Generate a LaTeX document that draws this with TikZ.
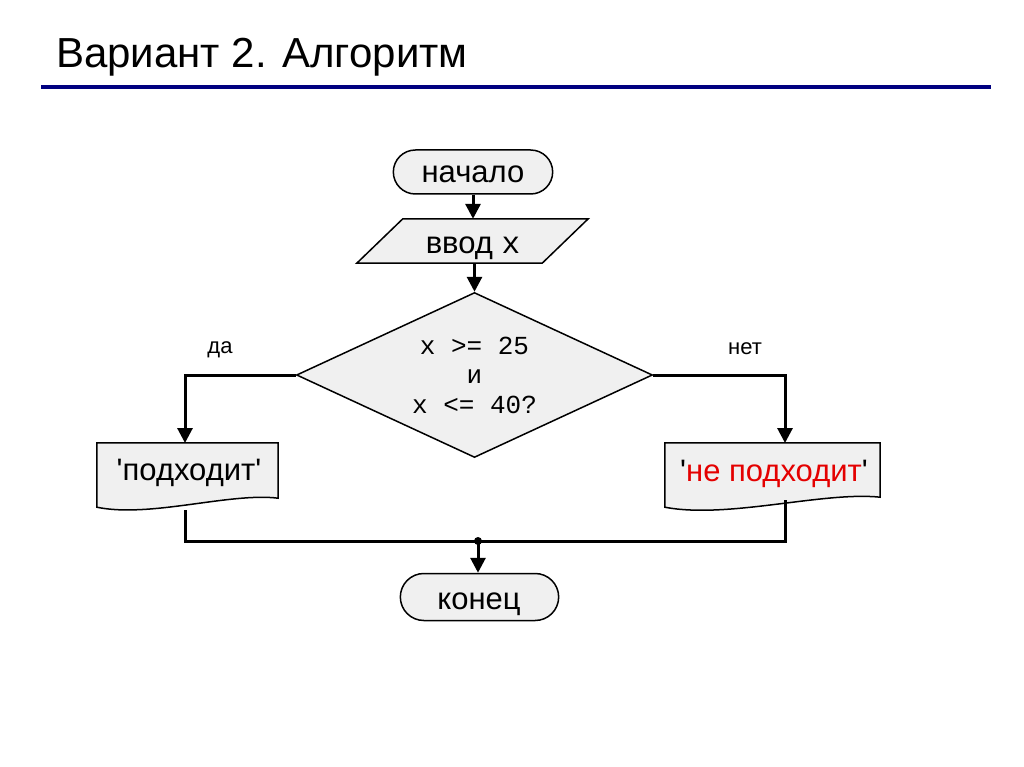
\documentclass[tikz,border=0pt]{standalone}
\usepackage{fontspec}
\setmainfont{Liberation Sans}
\newfontfamily\monofont{Liberation Mono}
\usetikzlibrary{arrows.meta,shapes.misc,shapes.geometric,calc}
\definecolor{boxgray}{RGB}{240,240,240}
\definecolor{navyline}{RGB}{0,0,128}
\definecolor{redtext}{RGB}{228,0,0}
\newcommand\straightq{\XeTeXglyph\XeTeXcharglyph"27\relax}
\tikzset{
  shapeline/.style={draw=black, line width=1.5pt, fill=boxgray},
  conn/.style={line width=3pt, -{Triangle[length=15pt,width=15pt]}},
  plainconn/.style={line width=3pt},
  term/.style={rounded rectangle, shapeline},
  txt/.style={font=\fontsize{31}{35}\selectfont, inner sep=0pt, text height=16pt, text depth=0pt},
  lbl/.style={font=\fontsize{22}{26}\selectfont, inner sep=0pt},
}
\begin{document}
\begin{tikzpicture}[x=1pt,y=-1pt]
\useasboundingbox (0,0) rectangle (1024,767);
\fill[white] (0,0) rectangle (1024,767);
% title
\node[anchor=base west, inner sep=0pt, font=\fontsize{42}{48}\selectfont] (title) at (56,68) {Вариант 2. Алгоритм};
\coordinate (rulel) at (41,87);
\coordinate (ruler) at (991,87);
\draw[navyline, line width=4pt] (rulel) -- (ruler);

% start
\node[term, minimum width=166pt, minimum height=44pt] (start) at (473,172) {};
\node[txt] (starttext) at (473,175) {начало};

% input parallelogram
\node[minimum width=185pt, minimum height=44pt, inner sep=0pt] (inp) at (472.5,241) {};
\draw[shapeline] ($(inp.north west)+(23,0)$) -- ($(inp.north east)+(23,0)$) -- ($(inp.south east)+(-23,0)$) -- ($(inp.south west)+(-23,0)$) -- cycle;
\node[txt] (inptext) at (473,245) {ввод {\monofont x}};

% decision
\node[diamond, shapeline, shape aspect=2.16, minimum width=356pt, minimum height=165pt, inner sep=0pt, align=center, font=\monofont\fontsize{26}{29.5}\selectfont] (dia) at (474.5,375) {x >= 25\\и\\x <= 40?};

% documents
\node[minimum width=181pt, minimum height=64pt, inner sep=0pt] (yes) at (187.5,475) {};
\draw[shapeline] (yes.north west) -- (yes.north east) -- ($(yes.south east)+(0,-9)$) .. controls ($(yes.south east)+(-48,-15)$) and ($(yes.south west)+(53,11)$) .. (yes.south west) -- cycle;
\node[txt] (yestext) at (189,472) {\straightq подходит\straightq};

\node[minimum width=215pt, minimum height=64pt, inner sep=0pt] (no) at (772.5,475) {};
\draw[shapeline] (no.north west) -- (no.north east) -- ($(no.south east)+(0,-10)$) .. controls ($(no.south east)+(-57,-16)$) and ($(no.south west)+(63,12)$) .. (no.south west) -- cycle;
\node[txt] (notext) at (774,473) {\straightq\textcolor{redtext}{не подходит}\straightq};

% end
\node[term, minimum width=165pt, minimum height=47pt] (fin) at (479.5,597) {};
\node[txt] (fintext) at (479,601) {конец};

% connectors
\coordinate (noin) at (785,443);
\coordinate (noout) at (785,500);
\coordinate (yesin) at (185,443);
\coordinate (yesout) at (185,510);
\coordinate (join) at (478,541);

\draw[conn] (start.south) -- (start.south |- inp.north);
\draw[conn] (inp.south -| dia.north) -- (dia.north);
\draw[conn] (dia.west) -| (yesin);
\draw[conn] (dia.east) -| (noin);
\draw[plainconn] (yesout) |- (join);
\draw[plainconn] (noout) |- (join);
\fill (join) circle (4pt);
\draw[conn] (join) -- (join |- fin.north);

% branch labels
\node[lbl] (lyes) at (220,350) {да};
\node[lbl] (lno) at (745,349) {нет};
\end{tikzpicture}
\end{document}
